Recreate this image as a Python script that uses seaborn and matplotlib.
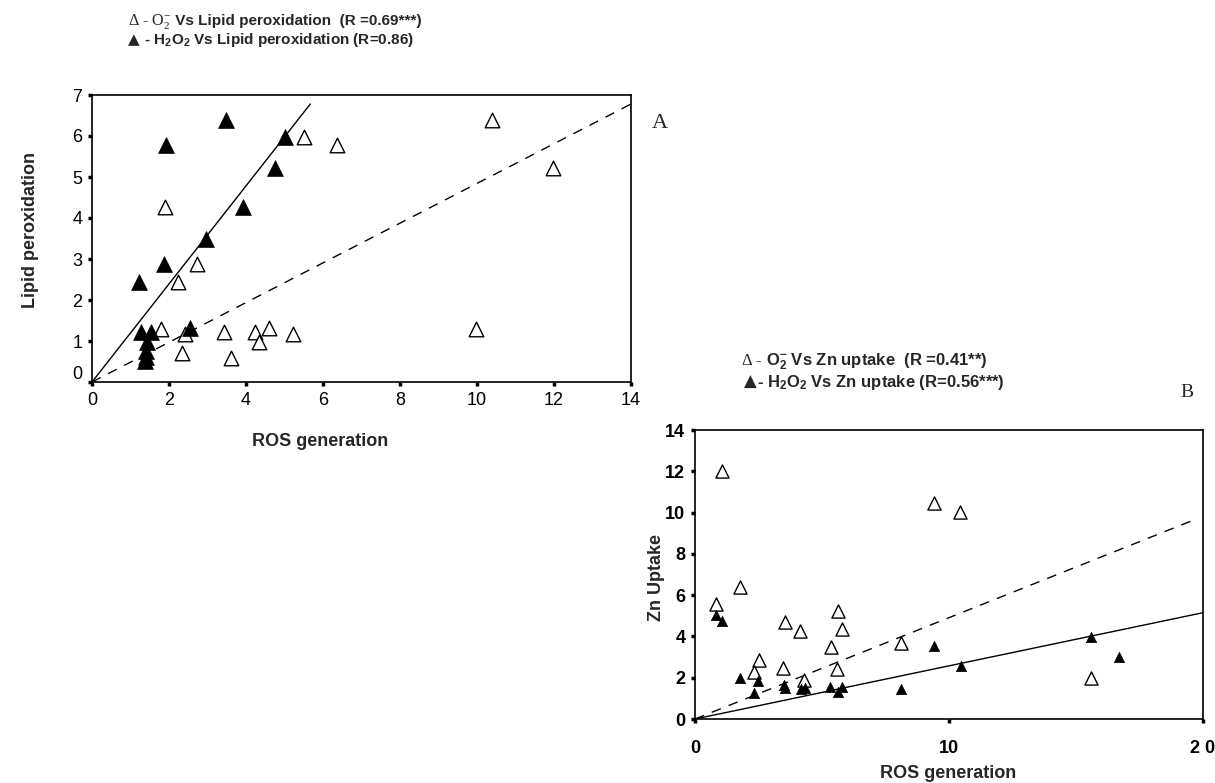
import matplotlib
matplotlib.use("Agg")
import matplotlib.pyplot as plt
import matplotlib.transforms as mtransforms
import seaborn as sns

# ========== DATA ==========
# panel A: ROS generation vs lipid peroxidation
A_O2_X = [5.50, 6.36, 1.90, 2.74, 2.24, 10.38, 11.97, 9.97, 1.80, 2.42, 3.42, 4.24, 4.59, 4.33, 5.23, 2.34, 3.61]
A_O2_Y = [5.98, 5.77, 4.26, 2.88, 2.44, 6.40, 5.21, 1.29, 1.29, 1.18, 1.23, 1.21, 1.31, 0.98, 1.18, 0.70, 0.59]
A_H2O2_X = [3.48, 1.92, 5.00, 4.76, 3.91, 2.97, 1.87, 1.23, 2.55, 1.27, 1.53, 1.43, 1.40, 1.40, 1.38]
A_H2O2_Y = [6.40, 5.77, 5.98, 5.21, 4.26, 3.50, 2.88, 2.44, 1.31, 1.21, 1.21, 0.97, 0.75, 0.62, 0.52]
# fitted lines (through origin), end points
A_FIT_O2_X, A_FIT_O2_Y = [0, 14.0], [0, 6.78]
A_FIT_H2O2_X, A_FIT_H2O2_Y = [0, 5.67], [0, 6.78]

# panel B: ROS generation vs Zn uptake
B_O2_X = [1.05, 1.77, 0.83, 3.54, 4.15, 5.64, 5.78, 5.34, 2.52, 2.34, 3.48, 5.58, 4.30, 8.12, 9.41, 10.43, 15.58]
B_O2_Y = [12.03, 6.41, 5.56, 4.68, 4.26, 5.25, 4.36, 3.49, 2.84, 2.29, 2.47, 2.41, 1.89, 3.70, 10.45, 10.04, 2.00]
B_H2O2_X = [0.83, 1.06, 1.77, 2.48, 2.34, 3.50, 3.54, 4.16, 4.34, 5.31, 5.64, 5.78, 8.12, 9.41, 10.46, 15.58, 16.71]
B_H2O2_Y = [5.04, 4.76, 1.97, 1.86, 1.24, 1.65, 1.49, 1.44, 1.49, 1.57, 1.32, 1.54, 1.44, 3.54, 2.58, 3.99, 2.99]
B_FIT_O2_X, B_FIT_O2_Y = [0, 19.7], [0, 9.67]
B_FIT_H2O2_X, B_FIT_H2O2_Y = [0, 20.0], [0, 5.15]

A_XTICKS = [0, 2, 4, 6, 8, 10, 12, 14]
A_YTICKS = [0, 1, 2, 3, 4, 5, 6, 7]
B_XTICKS = [0, 10, 20]
B_XTICKLABELS = ["0", "10", "2 0"]
B_YTICKS = [0, 2, 4, 6, 8, 10, 12, 14]

# ========== STYLE ==========
sns.set_style("ticks")
SANS = ["Liberation Sans", "DejaVu Sans"]
SERIF = ["Liberation Serif", "DejaVu Serif"]
plt.rcParams["font.family"] = SANS
plt.rcParams["mathtext.default"] = "regular"

W, H = 1215, 783
fig = plt.figure(figsize=(W / 100, H / 100), dpi=100)


def box(px_left, px_top, px_right, px_bottom):
    return [px_left / W, 1 - px_bottom / H, (px_right - px_left) / W, (px_bottom - px_top) / H]


def legend_line(ax, x, y, pieces):
    # pieces are (text, font kwargs); each one starts where the previous ends
    prev = fig.text(x / W, 1 - y / H, pieces[0][0], va="baseline", ha="left", **pieces[0][1])
    for txt, kw in pieces[1:]:
        prev = ax.annotate(txt, xy=(1, 1 - y / H), xycoords=(prev, "figure fraction"),
                           va="baseline", ha="left", **kw)


def style_axes(ax, bold_ticks):
    for sp in ax.spines.values():
        sp.set_visible(True)
        sp.set_color("black")
        sp.set_linewidth(1.2)
    ax.tick_params(direction="out", length=3, width=2.5, color="black", pad=4)
    for lab in ax.get_xticklabels() + ax.get_yticklabels():
        lab.set_fontsize(13)
        lab.set_fontweight("bold" if bold_ticks else "normal")
        lab.set_color("black")


open_kw = dict(marker="^", color="white", edgecolor="black", linewidth=1.0, legend=False)
fill_kw = dict(marker="^", color="black", edgecolor="black", linewidth=0.5, legend=False)
DASH = (0, (7, 6))

# ========== PANEL A ==========
boldA = dict(fontsize=11, fontweight="bold", family=SANS)
serifA = dict(fontsize=11.5, family=SERIF)
triA = dict(fontsize=11, family=["DejaVu Sans"])

axA = fig.add_axes(box(92, 95, 631, 382))
sns.lineplot(x=A_FIT_O2_X, y=A_FIT_O2_Y, ax=axA, color="black", lw=1, linestyle=DASH)
sns.lineplot(x=A_FIT_H2O2_X, y=A_FIT_H2O2_Y, ax=axA, color="black", lw=1)
sns.scatterplot(x=A_O2_X, y=A_O2_Y, ax=axA, s=110, **open_kw)
sns.scatterplot(x=A_H2O2_X, y=A_H2O2_Y, ax=axA, s=130, **fill_kw)
axA.set_xlim(0, 14)
axA.set_ylim(0, 7)
axA.set_xticks(A_XTICKS)
axA.set_yticks(A_YTICKS)
style_axes(axA, bold_ticks=False)
# the "0" label sits a little above the corner in the original
lab0 = axA.get_yticklabels()[0]
lab0.set_transform(lab0.get_transform() + mtransforms.ScaledTranslation(0, 0.1, fig.dpi_scale_trans))
axA.set_xlabel("ROS generation", fontsize=13, fontweight="bold", va="center")
axA.xaxis.set_label_coords(0.423, -0.206)
axA.set_ylabel("Lipid peroxidation", fontsize=13, fontweight="bold", va="center")
axA.yaxis.set_label_coords(-0.115, 0.53)

legend_line(axA, 128, 25, [("Δ - O$_2^{-}$", serifA),
                            (" Vs Lipid peroxidation  (R =0.69***)", boldA)])
legend_line(axA, 128, 44, [("▲", triA),
                            (" - H$_2$O$_2$ Vs Lipid peroxidation (R=0.86)", boldA)])
fig.text(652 / W, 1 - 128 / H, "A", family=SERIF, fontsize=16, va="baseline")

# ========== PANEL B ==========
boldB = dict(fontsize=12, fontweight="bold", family=SANS)
serifB = dict(fontsize=12, family=SERIF)
triB = dict(fontsize=12, family=["DejaVu Sans"])

axB = fig.add_axes(box(695, 430, 1203, 719))
sns.lineplot(x=B_FIT_O2_X, y=B_FIT_O2_Y, ax=axB, color="black", lw=1, linestyle=DASH)
sns.lineplot(x=B_FIT_H2O2_X, y=B_FIT_H2O2_Y, ax=axB, color="black", lw=1)
sns.scatterplot(x=B_O2_X, y=B_O2_Y, ax=axB, s=90, **open_kw)
sns.scatterplot(x=B_H2O2_X, y=B_H2O2_Y, ax=axB, s=55, **fill_kw)
axB.set_xlim(0, 20)
axB.set_ylim(0, 14)
axB.set_xticks(B_XTICKS)
axB.set_xticklabels(B_XTICKLABELS)
axB.set_yticks(B_YTICKS)
style_axes(axB, bold_ticks=True)
axB.tick_params(axis="x", pad=12)
axB.set_xlabel("ROS generation", fontsize=13, fontweight="bold", va="center")
axB.xaxis.set_label_coords(0.498, -0.187)
axB.set_ylabel("Zn Uptake", fontsize=13, fontweight="bold", va="center")
axB.yaxis.set_label_coords(-0.075, 0.488)

legend_line(axB, 742, 365, [("Δ - ", serifB),
                             ("O$_2^{-}$ Vs Zn uptake  (R =0.41**)", boldB)])
legend_line(axB, 744, 387, [("▲", triB),
                             ("- H$_2$O$_2$ Vs Zn uptake (R=0.56***)", boldB)])
fig.text(1180 / W, 1 - 397 / H, "B", family=SERIF, fontsize=14, va="baseline")

fig.savefig("out.png", dpi=100)
